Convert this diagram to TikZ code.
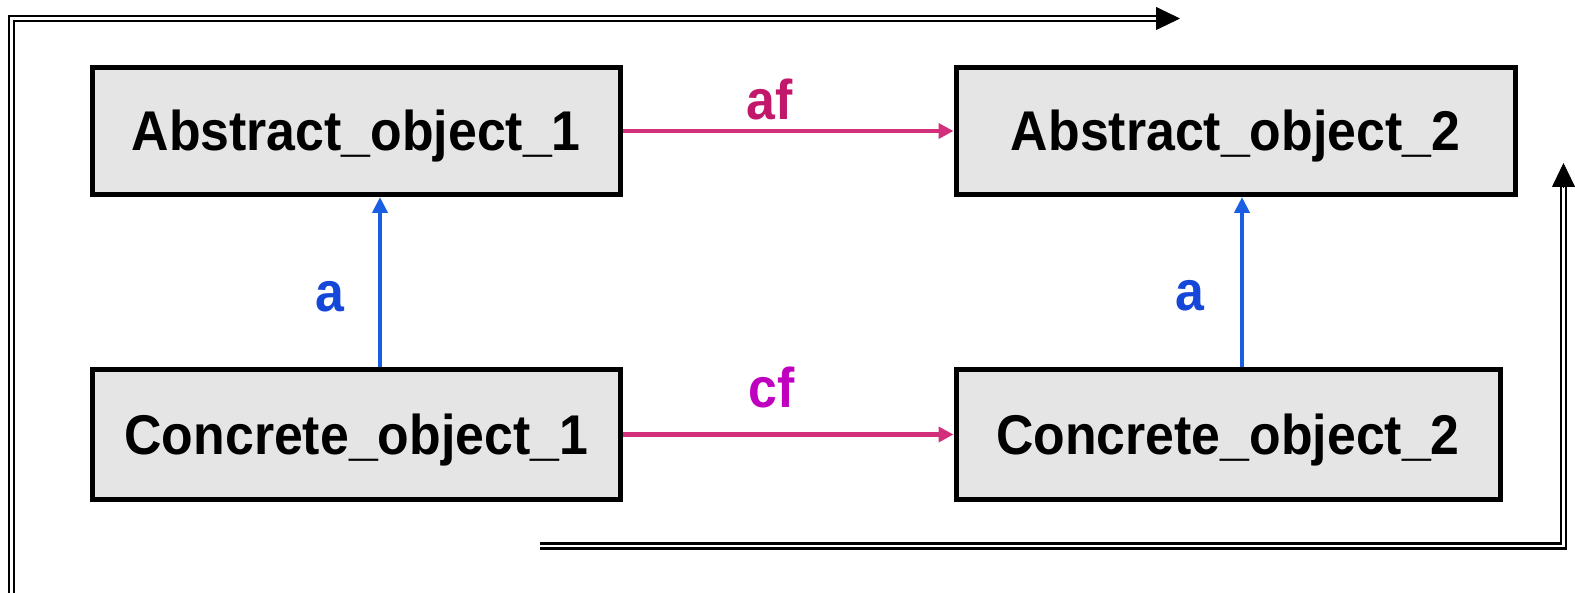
\documentclass[tikz,border=0pt]{standalone}
\usepackage{fontspec}
\setmainfont{Liberation Sans}[FakeStretch=0.925]
\usetikzlibrary{arrows.meta}
\definecolor{boxfill}{HTML}{E5E5E5}
\definecolor{flowpink}{HTML}{D2307A}
\definecolor{aflabel}{HTML}{C2186B}
\definecolor{cflabel}{HTML}{BF00BF}
\definecolor{mapblue}{HTML}{1A5FE3}
\definecolor{alabel}{HTML}{1548D8}

\begin{document}
\begin{tikzpicture}[x=0.5pt,y=-0.5pt,
  objbox/.style={draw=black, line width=2.5pt, fill=boxfill, inner sep=0pt,
    text height=20pt, text depth=0pt,
    font=\fontsize{28pt}{32pt}\selectfont\bfseries},
  lab/.style={inner sep=0pt, anchor=base, font=\fontsize{28pt}{32pt}\selectfont\bfseries},
  flow/.style={draw=flowpink, line width=2.3pt, -{Triangle[length=7.5pt,width=7.5pt]}},
  mapup/.style={draw=mapblue, line width=2.4pt, -{Triangle[length=8pt,width=7.5pt]}},
  dbl/.style={draw=black, double=white, double distance=1.4pt, line width=1.2pt},
  bigtip/.style={draw=black, line width=0.4pt, -{Triangle[length=12pt,width=11.5pt]}}]

\useasboundingbox (0,0) rectangle (1575,593);

% the four objects
\node[objbox, minimum width=263.75pt, minimum height=63.5pt] (ao1) at (356.25,131) {Abstract\_object\_1};
\node[objbox, minimum width=279.5pt, minimum height=63.5pt] (ao2) at (1235.5,131) {Abstract\_object\_2};
\node[objbox, minimum width=263.75pt, minimum height=64.5pt] (co1) at (356.25,434.5) {Concrete\_object\_1};
\node[objbox, minimum width=272pt, minimum height=64.5pt] (co2) at (1228,434.5) {Concrete\_object\_2};

% horizontal functions
\draw[flow] (ao1.east) -- (ao2.west);
\draw[flow] (co1.east) -- (co2.west);
\node[lab, text=aflabel] (laf) at (770,120) {af};
\node[lab, text=cflabel] (lcf) at (772,408) {cf};

% abstraction maps
\coordinate (m1) at (380,0);
\coordinate (m2) at (1242,0);
\draw[mapup] (co1.north -| m1) -- (ao1.south -| m1);
\draw[mapup] (co2.north -| m2) -- (ao2.south -| m2);
\node[lab, text=alabel] (la1) at (330,312) {a};
\node[lab, text=alabel] (la2) at (1190,311) {a};

% outer double arrows
\coordinate (dA0) at (11.5,600);
\coordinate (dA1) at (1156,18.5);
\coordinate (dA2) at (1180,18.5);
\draw[dbl] (dA0) |- (dA1);
\draw[bigtip] (dA1) -- (dA2);

\coordinate (dB0) at (540,546);
\coordinate (dB1) at (1563.5,187);
\coordinate (dB2) at (1563.5,163);
\draw[dbl] (dB0) -| (dB1);
\draw[bigtip] (dB1) -- (dB2);
\end{tikzpicture}
\end{document}
